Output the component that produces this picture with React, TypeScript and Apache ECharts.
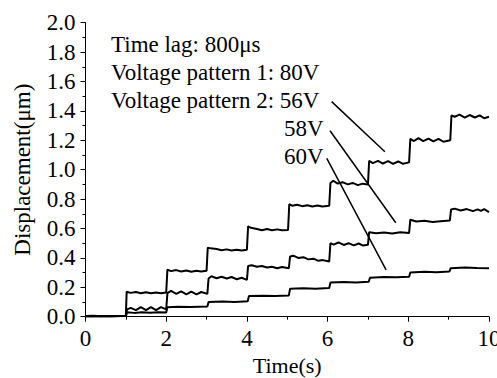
import React, { useEffect, useRef } from "react";
import * as echarts from "echarts";

// Time (s) / displacement (µm) pairs
const series56V: number[][] = [
  [0, 0.004], [0.2, 0.006], [0.4, 0.003], [0.6, 0.005], [0.8, 0.004], [1.0, 0.006],
  [1.02, 0.17], [1.12, 0.162], [1.25, 0.168], [1.37, 0.16], [1.5, 0.166], [1.62, 0.159], [1.75, 0.165], [1.87, 0.16], [2.0, 0.165],
  [2.03, 0.32], [2.12, 0.31], [2.25, 0.317], [2.37, 0.308], [2.5, 0.314], [2.62, 0.306], [2.75, 0.313], [2.87, 0.307], [3.0, 0.312],
  [3.03, 0.47], [3.1, 0.465], [3.25, 0.46], [3.37, 0.452], [3.5, 0.458], [3.62, 0.45], [3.75, 0.456], [3.87, 0.451], [4.0, 0.455],
  [4.03, 0.615], [4.1, 0.605], [4.25, 0.596], [4.37, 0.588], [4.5, 0.596], [4.62, 0.588], [4.75, 0.594], [4.87, 0.588], [5.02, 0.59],
  [5.05, 0.765], [5.12, 0.755], [5.25, 0.762], [5.37, 0.752], [5.5, 0.758], [5.62, 0.75], [5.75, 0.757], [5.87, 0.75], [6.04, 0.755],
  [6.07, 0.91], [6.14, 0.925], [6.25, 0.905], [6.37, 0.915], [6.5, 0.9], [6.62, 0.91], [6.75, 0.895], [6.87, 0.905], [7.0, 0.9],
  [7.03, 1.06], [7.12, 1.045], [7.25, 1.06], [7.37, 1.042], [7.5, 1.058], [7.62, 1.04], [7.75, 1.056], [7.87, 1.04], [8.02, 1.05],
  [8.05, 1.21], [8.14, 1.195], [8.25, 1.215], [8.37, 1.195], [8.5, 1.212], [8.62, 1.192], [8.75, 1.21], [8.87, 1.19], [9.04, 1.2],
  [9.07, 1.37], [9.15, 1.36], [9.27, 1.375], [9.4, 1.355], [9.52, 1.372], [9.65, 1.355], [9.77, 1.37], [9.88, 1.35], [10, 1.36],
];

const series58V: number[][] = [
  [0, 0.003], [0.3, 0.004], [0.6, 0.002], [0.9, 0.004], [1.0, 0.005],
  [1.03, 0.05], [1.12, 0.06], [1.25, 0.045], [1.37, 0.065], [1.5, 0.045], [1.62, 0.065], [1.75, 0.045], [1.87, 0.065], [2.0, 0.05],
  [2.03, 0.16], [2.12, 0.175], [2.25, 0.155], [2.37, 0.172], [2.5, 0.152], [2.62, 0.17], [2.75, 0.152], [2.87, 0.168], [3.02, 0.155],
  [3.05, 0.26], [3.12, 0.275], [3.25, 0.262], [3.37, 0.272], [3.5, 0.26], [3.62, 0.27], [3.75, 0.255], [3.87, 0.265], [4.0, 0.25],
  [4.03, 0.345], [4.12, 0.35], [4.25, 0.34], [4.37, 0.345], [4.5, 0.335], [4.62, 0.34], [4.75, 0.33], [4.87, 0.338], [5.04, 0.33],
  [5.07, 0.41], [5.15, 0.415], [5.27, 0.4], [5.4, 0.405], [5.52, 0.39], [5.65, 0.395], [5.77, 0.38], [5.88, 0.385], [6.04, 0.375],
  [6.07, 0.5], [6.15, 0.49], [6.27, 0.505], [6.4, 0.488], [6.52, 0.5], [6.65, 0.485], [6.77, 0.498], [6.88, 0.484], [7.0, 0.49],
  [7.03, 0.575], [7.2, 0.568], [7.4, 0.572], [7.6, 0.566], [7.8, 0.574], [8.02, 0.57],
  [8.05, 0.66], [8.2, 0.648], [8.4, 0.652], [8.6, 0.645], [8.8, 0.65], [9.03, 0.655],
  [9.06, 0.73], [9.15, 0.735], [9.3, 0.722], [9.45, 0.732], [9.6, 0.718], [9.72, 0.73], [9.8, 0.72], [9.88, 0.732], [10, 0.712],
];

const series60V: number[][] = [
  [0, 0.002], [0.5, 0.003], [1.0, 0.004],
  [1.03, 0.03], [1.2, 0.026], [1.4, 0.03], [1.6, 0.027], [1.8, 0.03], [2.0, 0.028],
  [2.03, 0.065], [2.3, 0.068], [2.6, 0.066], [3.02, 0.07],
  [3.05, 0.1], [3.4, 0.103], [3.7, 0.1], [4.02, 0.105],
  [4.05, 0.14], [4.4, 0.143], [4.7, 0.14], [5.04, 0.145],
  [5.07, 0.19], [5.4, 0.193], [5.7, 0.19], [6.04, 0.195],
  [6.07, 0.232], [6.4, 0.236], [6.7, 0.233], [7.02, 0.238],
  [7.05, 0.265], [7.4, 0.27], [7.7, 0.268], [8.02, 0.272],
  [8.05, 0.3], [8.4, 0.305], [8.7, 0.303], [9.02, 0.308],
  [9.05, 0.33], [9.4, 0.335], [9.7, 0.332], [10, 0.33],
];

// Leader lines from the labels to the curves (data coordinates)
const leader56V: number[][] = [[6.1, 1.463], [7.42, 1.122]];
const leader58V: number[][] = [[6.06, 1.265], [7.69, 0.639]];
const leader60V: number[][] = [[5.98, 1.077], [7.45, 0.318]];

const xTicks = { min: 0, max: 10, interval: 2 };
const yTicks = { min: 0, max: 2, interval: 0.2 };

const annotationLines = [
  "Time lag: 800μs",
  "Voltage pattern 1: 80V",
  "Voltage pattern 2: 56V",
];
const voltageLabels = ["58V", "60V"];

const FONT = "Liberation Serif";

export default function App() {
  const ref = useRef<HTMLDivElement>(null);
  useEffect(() => {
    if (!ref.current) return;
    const chart = echarts.init(ref.current, undefined, { renderer: "svg" });
    const curve = (name: string, data: number[][]) => ({
      name,
      type: "line",
      data,
      showSymbol: false,
      symbol: "none",
      silent: true,
      lineStyle: { color: "#000", width: 2 },
    });
    const leader = (name: string, data: number[][]) => ({
      name,
      type: "line",
      data,
      showSymbol: false,
      symbol: "none",
      silent: true,
      lineStyle: { color: "#000", width: 1.5 },
    });
    const textEl = (text: string, x: number, y: number) => ({
      type: "text",
      x,
      y,
      style: {
        text,
        fontFamily: FONT,
        fontSize: 23,
        fill: "#000",
        align: "left",
        verticalAlign: "middle",
      },
    });
    chart.setOption({
      animation: false,
      backgroundColor: "#fff",
      grid: {
        left: 85.5,
        right: 8,
        top: 22.7,
        bottom: 61.3,
        containLabel: false,
        outerBoundsMode: "none",
      },
      xAxis: {
        type: "value",
        min: xTicks.min,
        max: xTicks.max,
        interval: xTicks.interval,
        name: "Time(s)",
        nameLocation: "middle",
        nameGap: 36,
        nameTextStyle: { fontFamily: FONT, fontSize: 22, color: "#000" },
        axisLine: { show: true, lineStyle: { color: "#000", width: 1 } },
        axisTick: { show: true, inside: false, length: 5, lineStyle: { color: "#000" } },
        minorTick: { show: true, splitNumber: 2, length: 3, lineStyle: { color: "#000" } },
        splitLine: { show: false },
        axisLabel: { fontFamily: FONT, fontSize: 23, color: "#000", margin: 10 },
      },
      yAxis: {
        type: "value",
        min: yTicks.min,
        max: yTicks.max,
        interval: yTicks.interval,
        name: "Displacement(μm)",
        nameLocation: "middle",
        nameRotate: 90,
        nameGap: 52,
        nameTextStyle: { fontFamily: FONT, fontSize: 23, color: "#000" },
        axisLine: { show: true, lineStyle: { color: "#000", width: 1 } },
        axisTick: { show: true, inside: false, length: 5, lineStyle: { color: "#000" } },
        minorTick: { show: true, splitNumber: 2, length: 3, lineStyle: { color: "#000" } },
        splitLine: { show: false },
        axisLabel: {
          fontFamily: FONT,
          fontSize: 23,
          color: "#000",
          margin: 10,
          formatter: (v: number) => v.toFixed(1),
        },
      },
      series: [
        curve("56V", series56V),
        curve("58V", series58V),
        curve("60V", series60V),
        leader("leader56V", leader56V),
        leader("leader58V", leader58V),
        leader("leader60V", leader60V),
      ],
      graphic: [
        textEl(annotationLines[0], 111, 44.5),
        textEl(annotationLines[1], 111, 72.5),
        textEl(annotationLines[2], 111, 100),
        textEl(voltageLabels[0], 284, 128),
        textEl(voltageLabels[1], 284, 156),
      ],
    });
    return () => chart.dispose();
  }, []);
  return (
    <div
      ref={ref}
      style={{ position: "fixed", left: 0, top: 0, width: 497, height: 378, background: "#fff" }}
    />
  );
}
